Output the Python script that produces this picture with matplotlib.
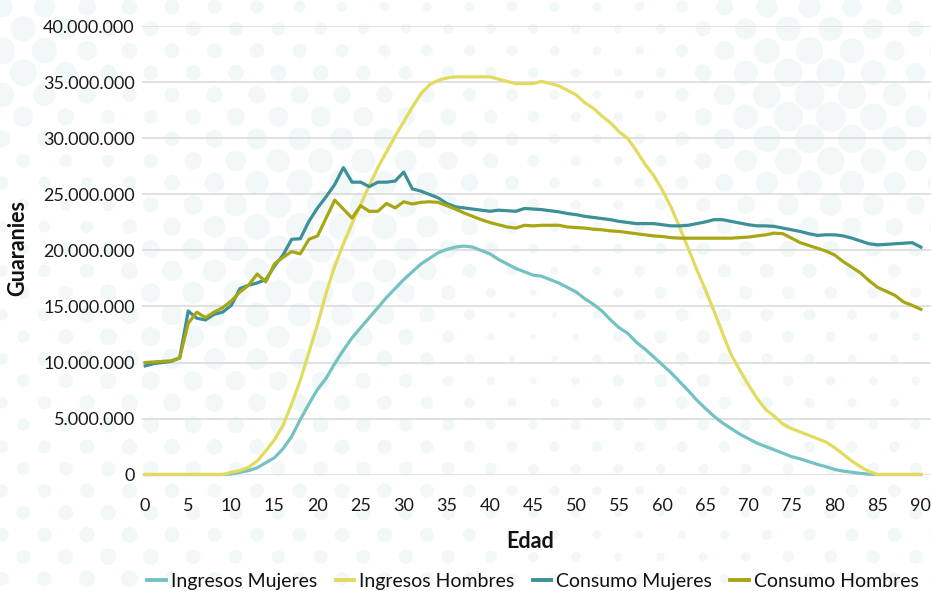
import matplotlib
matplotlib.use("Agg")
import matplotlib.pyplot as plt
from matplotlib.ticker import FuncFormatter
import numpy as np

# ---------------- data ----------------
edad = list(range(0, 91))

ingresos_mujeres = [
    0, 0, 0, 0, 0, 0, 0, 0, 0, 0,
    0.05, 0.2, 0.35, 0.6, 1.05, 1.5, 2.3, 3.4, 4.9, 6.3,
    7.6, 8.6, 9.9, 11.1, 12.2, 13.1, 14.0, 14.9, 15.8, 16.6,
    17.4, 18.1, 18.8, 19.3, 19.8, 20.1, 20.3, 20.4, 20.3, 20.0,
    19.7, 19.2, 18.8, 18.4, 18.1, 17.8, 17.7, 17.4, 17.1, 16.7,
    16.3, 15.7, 15.2, 14.6, 13.8, 13.1, 12.6, 11.8, 11.2, 10.5,
    9.8, 9.1, 8.3, 7.5, 6.65, 5.9, 5.2, 4.6, 4.1, 3.6,
    3.2, 2.8, 2.5, 2.2, 1.9, 1.6, 1.4, 1.15, 0.9, 0.7,
    0.45, 0.3, 0.2, 0.1, 0.03, 0, 0, 0, 0, 0, 0,
]

ingresos_hombres = [
    0, 0, 0, 0, 0, 0, 0, 0, 0, 0,
    0.2, 0.35, 0.65, 1.2, 2.1, 3.1, 4.4, 6.3, 8.4, 10.9,
    13.4, 16.2, 18.6, 20.6, 22.4, 24.1, 25.8, 27.4, 28.8, 30.2,
    31.5, 32.8, 34.0, 34.8, 35.2, 35.4, 35.5, 35.5, 35.5, 35.5,
    35.5, 35.3, 35.1, 34.9, 34.9, 34.9, 35.1, 34.9, 34.7, 34.3,
    33.9, 33.2, 32.7, 32.0, 31.4, 30.6, 30.0, 28.9, 27.7, 26.7,
    25.4, 23.9, 22.1, 20.2, 18.3, 16.5, 14.6, 12.6, 10.7, 9.3,
    8.0, 6.8, 5.8, 5.2, 4.5, 4.1, 3.8, 3.5, 3.2, 2.9,
    2.4, 1.8, 1.2, 0.7, 0.25, 0, 0, 0, 0, 0, 0,
]

consumo_mujeres = [
    9.7, 9.9, 10.0, 10.1, 10.4, 14.6, 13.95, 13.8, 14.3, 14.5,
    15.1, 16.6, 16.9, 17.1, 17.4, 18.6, 19.6, 21.0, 21.05, 22.6,
    23.8, 24.8, 25.9, 27.4, 26.1, 26.1, 25.7, 26.1, 26.1, 26.2,
    27.0, 25.5, 25.3, 25.0, 24.7, 24.2, 23.9, 23.8, 23.7, 23.6,
    23.5, 23.6, 23.55, 23.5, 23.75, 23.7, 23.65, 23.55, 23.45, 23.3,
    23.2, 23.05, 22.95, 22.85, 22.75, 22.6, 22.5, 22.4, 22.4, 22.4,
    22.3, 22.2, 22.2, 22.25, 22.4, 22.55, 22.75, 22.75, 22.6, 22.45,
    22.3, 22.2, 22.2, 22.15, 22.0, 21.85, 21.7, 21.5, 21.35, 21.4,
    21.4, 21.3, 21.1, 20.85, 20.6, 20.5, 20.55, 20.6, 20.65, 20.7, 20.3,
]

consumo_hombres = [
    10.0, 10.05, 10.1, 10.15, 10.4, 13.5, 14.5, 14.0, 14.5, 14.9,
    15.5, 16.3, 16.9, 17.9, 17.2, 18.8, 19.4, 19.9, 19.7, 21.0,
    21.3, 22.9, 24.5, 23.7, 22.9, 24.0, 23.5, 23.5, 24.2, 23.8,
    24.35, 24.15, 24.3, 24.35, 24.3, 24.0, 23.7, 23.35, 23.05, 22.75,
    22.5, 22.3, 22.1, 22.0, 22.25, 22.2, 22.25, 22.25, 22.25, 22.1,
    22.05, 22.0, 21.9, 21.85, 21.75, 21.7, 21.6, 21.5, 21.4, 21.3,
    21.25, 21.15, 21.1, 21.1, 21.1, 21.1, 21.1, 21.1, 21.1, 21.15,
    21.2, 21.3, 21.4, 21.55, 21.5, 21.1, 20.7, 20.45, 20.2, 19.95,
    19.6, 19.0, 18.5, 18.0, 17.3, 16.7, 16.35, 16.0, 15.4, 15.1, 14.75,
]

series_names = ["Ingresos Mujeres", "Ingresos Hombres", "Consumo Mujeres", "Consumo Hombres"]
series_colors = ["#74c2c2", "#e2db5e", "#3d9097", "#a9a614"]
x_ticks = list(range(0, 91, 5))
y_ticks = list(range(0, 40_000_001, 5_000_000))

# ---------------- figure ----------------
plt.rcParams["font.family"] = ["Lato", "DejaVu Sans"]

W, H = 931, 591
fig = plt.figure(figsize=(W / 100, H / 100), dpi=100)

# decorative background dot pattern (hex grid, radius varies smoothly)
bg = fig.add_axes([0, 0, 1, 1], zorder=-5)
bg.set_xlim(0, W)
bg.set_ylim(H, 0)
bg.axis("off")
gx, gy = np.meshgrid(np.arange(-1, 24) * 42.5, np.arange(0, 28) * 22.0 + 6.8)
gx = gx + (np.arange(28)[:, None] % 2) * 21.25 + 2
def blob(cx, cy, s):
    return np.exp(-((gx - cx) ** 2 + (gy - cy) ** 2) / (2 * s ** 2))
rad = (5.5 + 1.5 * np.sin(gx / 83.0) * np.cos(gy / 57.0)
       + 10 * blob(800, 95, 95) + 8 * blob(300, 250, 120) + 8 * blob(10, 60, 55)
       + 4 * blob(120, 560, 80)
       - 4.5 * blob(660, 40, 70) - 4.0 * blob(540, 330, 60))
rad = np.clip(rad, 1.5, 15)
bg.scatter(gx.ravel(), gy.ravel(), s=(2 * rad.ravel() * 0.72) ** 2,
           color="#f2f8f8", linewidths=0)

ax = fig.add_axes([0.1522, 0.1971, 0.848, 0.7581])

for name, vals, col in zip(series_names,
                           [ingresos_mujeres, ingresos_hombres, consumo_mujeres, consumo_hombres],
                           series_colors):
    ax.plot(edad, np.array(vals) * 1e6, color=col, lw=2.3, label=name,
            clip_on=False, solid_joinstyle="round", zorder=3)

ax.set_xlim(-0.4, 91.2)
ax.set_ylim(0, 40_000_000)
ax.set_xticks(x_ticks)
ax.set_yticks(y_ticks)
ax.yaxis.set_major_formatter(FuncFormatter(lambda v, p: f"{int(v):,}".replace(",", ".")))
ax.tick_params(axis="both", length=0, labelsize=13, colors="#1a1a1a")
ax.tick_params(axis="x", pad=17)
ax.tick_params(axis="y", pad=5)
ax.grid(axis="y", color="#dedede", lw=1.3, zorder=0)
for s in ax.spines.values():
    s.set_visible(False)
ax.set_facecolor("none")

fig.text(0.019, 0.580, "Guaranies", rotation=90, ha="center", va="center",
         fontsize=15.5, fontweight="bold", color="#111111")
fig.text(0.569, 0.084, "Edad", ha="center", va="center",
         fontsize=15.5, fontweight="bold", color="#111111")

leg = fig.legend(*ax.get_legend_handles_labels(), loc="lower center", ncol=4,
                 bbox_to_anchor=(0.5725, -0.028), frameon=False,
                 prop={"size": 14},
                 handlelength=0.95, handletextpad=0.25, columnspacing=0.95)
for t in leg.get_texts():
    t.set_color("#111111")
for l in leg.get_lines():
    l.set_linewidth(2.8)

fig.savefig("out.png", dpi=100)
